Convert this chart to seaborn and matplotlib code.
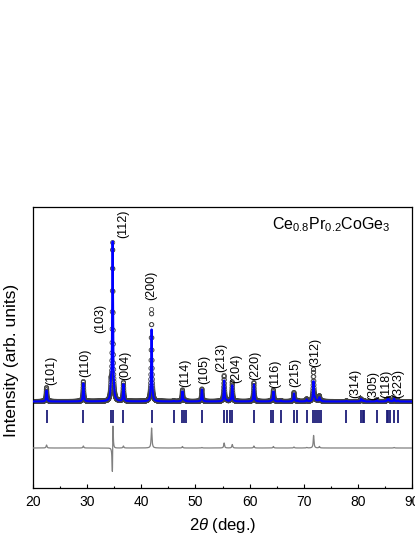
"""
Rietveld refinement plot for Ce0.8Pr0.2CoGe3 (observed, calculated,
Bragg positions and difference curve).
"""

import numpy as np
import matplotlib
matplotlib.use("Agg")  # headless
import matplotlib.pyplot as plt
from matplotlib.ticker import MultipleLocator
import seaborn as sns

# Bragg reflection positions (2theta, deg.)
reflections = [22.5, 29.3, 34.4, 34.7, 36.7, 41.9, 46.0, 47.6, 47.9, 48.2,
               51.2, 55.3, 55.8, 56.4, 56.8, 60.8, 64.0, 64.4, 65.8, 68.2,
               68.8, 70.55, 71.8, 72.1, 72.5, 72.9, 73.2, 77.9, 80.6, 80.9,
               81.2, 83.5, 85.3, 85.6, 85.9, 86.7, 87.4]
# peak heights above background for each reflection (arb. units)
calc_height = [11, 18, 12, 159, 17, 72, 0.5, 10, 1, 1,
               12, 21, 1, 1, 16, 17, 1, 10, 1, 8,
               1, 2, 20, 3, 1, 4, 1, 0.5, 2.5, 1,
               0.5, 1.5, 1, 3, 1, 3, 1]
obs_height = [14, 20, 12, 158, 19, 92, 0.5, 11.5, 1, 1,
              12.5, 26, 1, 1, 19.5, 19, 1, 11.5, 1, 9,
              1, 2.5, 32, 3, 1, 5.5, 1, 0.5, 2.5, 1,
              0.5, 1.5, 1, 3, 1, 3.5, 1]
# small misplacement of the observed lines (deg.)
obs_shift = [0, 0, 0, 0.02, 0, 0, 0, 0, 0, 0,
             0, 0, 0, 0, 0, 0, 0, 0, 0, 0,
             0, 0, 0.01, 0, 0, 0, 0, 0, 0, 0,
             0, 0, 0, 0, 0, 0, 0]
peak_fwhm = 0.18
background = 86.5
diff_offset = 40.0
tick_row = (65.0, 78.0)

# Miller index labels and where they sit (x in deg., y = bottom of text)
hkl_labels = ["(101)", "(110)", "(103)", "(112)", "(004)", "(200)", "(114)",
              "(105)", "(213)", "(204)", "(220)", "(116)", "(215)", "(312)",
              "(314)", "(305)", "(118)", "(323)"]
label_x = [23.3, 29.6, 32.4, 36.7, 37.05, 41.9, 48.1, 51.6, 54.85, 57.45,
           61.0, 64.8, 68.4, 72.2, 79.6, 82.85, 85.3, 87.5]
label_y = [103, 111, 155, 250, 108, 188, 101, 104, 116, 105,
           108, 100, 101, 121, 90, 88, 90, 90]

two_theta = np.arange(20.0, 90.0, 0.02)


def profile(heights, shifts):
    y = np.full_like(two_theta, background)
    hw = peak_fwhm / 2
    for p, h, s in zip(reflections, heights, shifts):
        y += h / (1 + ((two_theta - p - s) / hw) ** 2)
    return y


calc = profile(calc_height, [0] * len(reflections))
obs = profile(obs_height, obs_shift)
diff = obs - calc + diff_offset

sns.set_style("ticks")
plt.rcParams["font.family"] = ["Liberation Sans", "DejaVu Sans"]
plt.rcParams["mathtext.fontset"] = "custom"
plt.rcParams["mathtext.rm"] = "Liberation Sans"
plt.rcParams["mathtext.it"] = "Liberation Sans:italic"
plt.rcParams["mathtext.default"] = "regular"
plt.rcParams["text.color"] = "black"
plt.rcParams["axes.labelcolor"] = "black"
plt.rcParams["xtick.color"] = "black"

fig = plt.figure(figsize=(4.15, 5.37), dpi=100)
ax = fig.add_axes([33 / 415, 1 - 488 / 537, 379 / 415, 281 / 537])

sns.scatterplot(x=two_theta, y=obs, marker="o", s=9, facecolor="none",
                edgecolor="#444444", linewidth=0.55, ax=ax, zorder=2)
sns.lineplot(x=two_theta, y=calc, color="#0000ff", linewidth=1.5,
             estimator=None, sort=False, ax=ax, zorder=3)
ax.vlines(reflections, tick_row[0], tick_row[1], color="#1c1c78",
          linewidth=1.3, zorder=3)
sns.lineplot(x=two_theta, y=diff, color="#808080", linewidth=0.9,
             estimator=None, sort=False, ax=ax, zorder=4)

for lab, lx, ly in zip(hkl_labels, label_x, label_y):
    ax.text(lx, ly, lab, rotation=90, ha="center", va="bottom", fontsize=9,
            color="black")

ax.text(0.942, 0.922, r"Ce$_{0.8}$Pr$_{0.2}$CoGe$_{3}$", transform=ax.transAxes,
        ha="right", va="baseline", fontsize=11.5, color="black")

ax.set_xlim(20, 90)
ax.set_ylim(0, 281)
ax.xaxis.set_major_locator(MultipleLocator(10))
ax.xaxis.set_minor_locator(MultipleLocator(5))
ax.tick_params(axis="x", which="both", direction="in", labelsize=10, pad=5,
               width=0.8, colors="black")
ax.tick_params(axis="x", which="major", length=3)
ax.tick_params(axis="x", which="minor", length=1.5)
ax.set_yticks([])
for sp in ax.spines.values():
    sp.set_linewidth(0.9)
    sp.set_color("black")

ax.set_xlabel(r"2$\mathit{\theta}$ (deg.)", fontsize=12, labelpad=5)
ax.set_ylabel("Intensity (arb. units)", fontsize=12.5)
ax.yaxis.set_label_coords(-0.036, 0.454)

fig.savefig("out.png", dpi=100)
